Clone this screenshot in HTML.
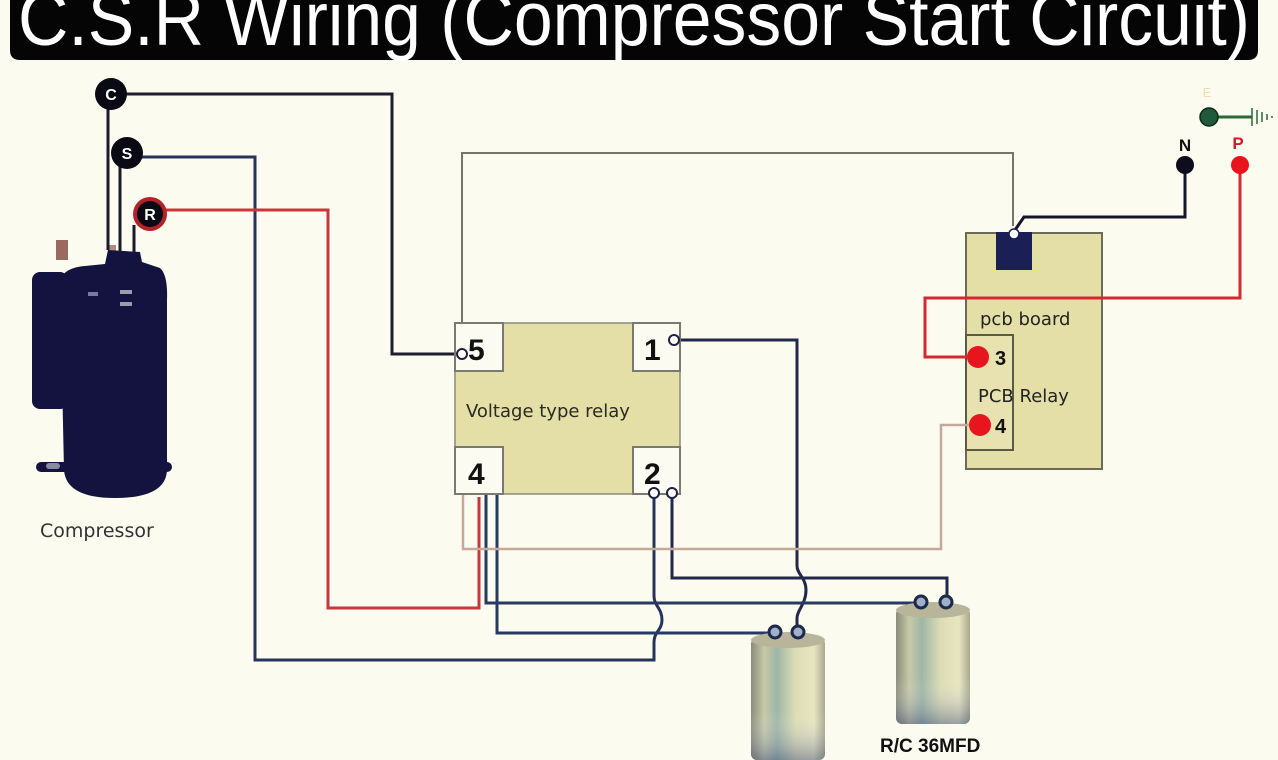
<!DOCTYPE html>
<html><head><meta charset="utf-8"><style>
html,body{margin:0;padding:0;background:#fcfbef;}
svg{display:block;}
</style></head><body>
<svg width="1278" height="760" viewBox="0 0 1278 760" xmlns="http://www.w3.org/2000/svg">
<defs>
<linearGradient id="cap" x1="0" x2="1" y1="0" y2="0">
<stop offset="0" stop-color="#8b8c7a"/><stop offset="0.18" stop-color="#c7c9a8"/><stop offset="0.35" stop-color="#9fb6a6"/><stop offset="0.6" stop-color="#dcdcb4"/><stop offset="0.85" stop-color="#e8e6c0"/><stop offset="1" stop-color="#a9a98c"/>
</linearGradient>
<linearGradient id="capd" x1="0" x2="0" y1="0" y2="1">
<stop offset="0" stop-color="#ffffff" stop-opacity="0"/><stop offset="0.6" stop-color="#ffffff" stop-opacity="0"/><stop offset="1" stop-color="#3a4a7a" stop-opacity="0.45"/>
</linearGradient>
</defs>
<rect width="1278" height="760" fill="#fcfbef"/>
<!-- title -->
<path d="M10 0 H1258 V50 Q1258 60 1248 60 H20 Q10 60 10 50 Z" fill="#050505"/>
<text x="18" y="45" fill="#fff" font-family="Liberation Sans, sans-serif" font-size="76" textLength="1232" lengthAdjust="spacingAndGlyphs">C.S.R Wiring (Compressor Start Circuit)</text>

<!-- compressor -->
<g fill="#14123f">
<rect x="108" y="245" width="8" height="12" fill="#b58a7a"/>
<rect x="56" y="240" width="12" height="20" fill="#9a6a60"/>
<rect x="32" y="272" width="36" height="137" rx="8"/>
<path d="M60 285 Q60 268 85 266 L105 264 L108 250 L140 252 L142 262 L160 268 Q168 275 167 300 L167 470 Q166 498 115 498 Q66 498 64 470 Z"/>
<rect x="36" y="462" width="136" height="10" rx="5"/>
</g>
<rect x="46" y="463" width="14" height="6" rx="3" fill="#8a8aa0"/>
<rect x="88" y="292" width="10" height="4" fill="#7a7a9a"/><rect x="120" y="290" width="12" height="4" fill="#9a9ab0"/>
<rect x="120" y="302" width="12" height="4" fill="#9a9ab0"/>
<text x="40" y="537" font-family="DejaVu Sans, sans-serif" font-size="19" fill="#333">Compressor</text>

<!-- pcb board (drawn before wires so P line crosses over) -->
<rect x="966" y="233" width="136" height="236" fill="#e4dfa6" stroke="#6a6a58" stroke-width="2"/>
<rect x="966" y="335" width="47" height="115" fill="#e8e2b0" stroke="#5a5a48" stroke-width="2"/>

<!-- wires -->
<g fill="none" stroke-width="3">
<path d="M108 250 V100" stroke="#1a1a2a"/>
<path d="M120 252 V165" stroke="#1a1a2a"/>
<path d="M134 252 V225" stroke="#1a1a2a"/>
<path d="M120 94 H392 V354 H458" stroke="#1e1e2e"/>
<path d="M140 157 H255 V660 H654 V642 C654 632 662 630 662 620 C662 608 654 606 654 596 V497" stroke="#27345a"/>
<path d="M160 210 H328 V608 H479 V497" stroke="#c8373c"/>
<path d="M462 322 V153 H1013 V226" stroke="#77746a" stroke-width="2"/>
<path d="M677 340 H797 V566 C797 574 806 578 806 590 C806 604 797 610 797 618 V626" stroke="#22284a"/>
<path d="M672 497 V578 H947 V596" stroke="#22284a"/>
<path d="M486 493 V603 H915" stroke="#273a66"/>
<path d="M497 493 V633 H770" stroke="#273a66"/>
<path d="M463 493 V549 H941 V425 H975" stroke="#c4a89a" stroke-width="2.5"/>
<path d="M1185 165 V217 H1024 L1015 230" stroke="#14142a"/>
<path d="M1240 165 V298 H925 V357 H975" stroke="#d22a32"/>
<path d="M1210 117 H1252" stroke="#2a6a3a"/>
<path d="M1252 108 V126 M1257 110 V124 M1262 112 V122 M1267 114 V120 M1272 116 V118" stroke="#2a6a3a" stroke-width="1.5"/>
</g>

<!-- C S R circles -->
<circle cx="111" cy="94" r="16" fill="#0a0a14"/>
<text x="111" y="100" text-anchor="middle" font-family="Liberation Sans, sans-serif" font-weight="bold" font-size="16" fill="#fff">C</text>
<circle cx="127" cy="153" r="16" fill="#0a0a14"/>
<text x="127" y="159" text-anchor="middle" font-family="Liberation Sans, sans-serif" font-weight="bold" font-size="16" fill="#fff">S</text>
<circle cx="150" cy="214" r="17" fill="#b3222a"/>
<circle cx="150" cy="214" r="13" fill="#0a0a14"/>
<text x="150" y="220" text-anchor="middle" font-family="Liberation Sans, sans-serif" font-weight="bold" font-size="16" fill="#fff">R</text>

<!-- relay -->
<rect x="455" y="323" width="225" height="171" fill="#e4dfa6" stroke="#8a8a78" stroke-width="1.5"/>
<g fill="#fbfbf2" stroke="#7a7a70" stroke-width="2">
<rect x="455" y="323" width="48" height="48"/>
<rect x="633" y="323" width="47" height="48"/>
<rect x="455" y="447" width="48" height="47"/>
<rect x="633" y="447" width="47" height="47"/>
</g>
<g font-family="Liberation Sans, DejaVu Sans, sans-serif" font-weight="bold" font-size="30" fill="#111">
<text x="468" y="360">5</text><text x="644" y="360">1</text>
<text x="468" y="484">4</text><text x="644" y="484">2</text>
</g>
<text x="466" y="417" font-family="DejaVu Sans, sans-serif" font-size="18" fill="#2a2a20">Voltage type relay</text>
<g fill="#fff" stroke="#1e2240" stroke-width="2">
<circle cx="462" cy="354" r="5"/><circle cx="674" cy="340" r="5"/>
<circle cx="654" cy="493" r="5"/><circle cx="672" cy="493" r="5"/>
</g>

<!-- pcb contents -->
<rect x="996" y="232" width="36" height="38" fill="#1a1f55"/>
<circle cx="1014" cy="234" r="5" fill="#fff" stroke="#1a1f55" stroke-width="1.5"/>
<text x="980" y="325" font-family="DejaVu Sans, sans-serif" font-size="18" fill="#222">pcb board</text>
<text x="978" y="402" font-family="DejaVu Sans, sans-serif" font-size="18" fill="#222">PCB Relay</text>
<circle cx="978" cy="357" r="11" fill="#e8141e"/>
<circle cx="980" cy="425" r="11" fill="#e8141e"/>
<text x="995" y="365" font-family="Liberation Sans, sans-serif" font-weight="bold" font-size="20" fill="#111">3</text>
<text x="995" y="433" font-family="Liberation Sans, sans-serif" font-weight="bold" font-size="20" fill="#111">4</text>

<!-- N P E -->
<circle cx="1185" cy="165" r="9" fill="#0d0d1e"/>
<text x="1185" y="151" text-anchor="middle" font-family="Liberation Sans, sans-serif" font-weight="bold" font-size="17" fill="#111">N</text>
<circle cx="1240" cy="165" r="9" fill="#e8141e"/>
<text x="1238" y="149" text-anchor="middle" font-family="Liberation Sans, sans-serif" font-weight="bold" font-size="17" fill="#d21a22">P</text>
<circle cx="1209" cy="117" r="9" fill="#1f5a3a" stroke="#0d2a1a" stroke-width="1.5"/>
<text x="1207" y="97" text-anchor="middle" font-family="Liberation Sans, sans-serif" font-size="13" fill="#eee0a8">E</text>

<!-- capacitors -->
<g>
<rect x="751" y="638" width="74" height="122" rx="6" fill="url(#cap)"/>
<rect x="751" y="638" width="74" height="122" rx="6" fill="url(#capd)"/>
<ellipse cx="788" cy="640" rx="37" ry="8" fill="#b8b59a"/>
<rect x="896" y="608" width="74" height="116" rx="6" fill="url(#cap)"/>
<rect x="896" y="608" width="74" height="116" rx="6" fill="url(#capd)"/>
<ellipse cx="933" cy="610" rx="37" ry="8" fill="#b8b59a"/>
</g>
<g fill="#9fb0c8" stroke="#1e2a4a" stroke-width="3">
<circle cx="775" cy="632" r="6"/><circle cx="798" cy="632" r="6"/>
<circle cx="921" cy="602" r="6"/><circle cx="946" cy="602" r="6"/>
</g>
<text x="880" y="752" font-family="Liberation Sans, sans-serif" font-weight="bold" font-size="19" fill="#111">R/C 36MFD</text>
</svg>
</body></html>
